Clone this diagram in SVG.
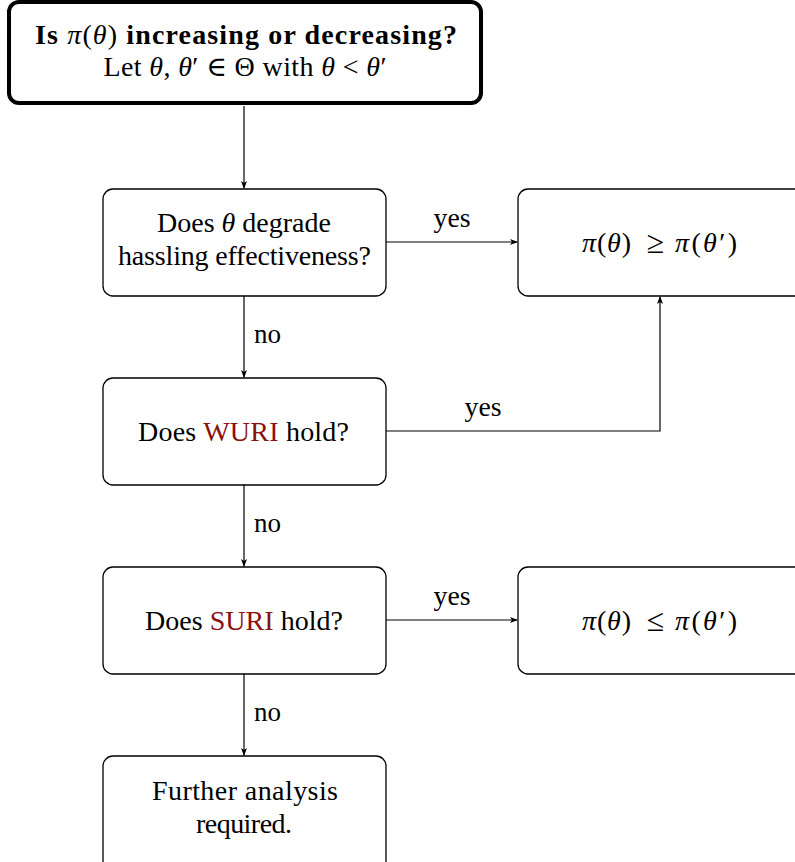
<svg xmlns="http://www.w3.org/2000/svg" width="795" height="862" viewBox="0 0 795 862">
<style>
.box{fill:#fff;stroke:#000;stroke-width:1.3}
.top{fill:#fff;stroke:#000;stroke-width:4}
text{font-family:"Liberation Serif","DejaVu Serif",serif;font-size:28px;fill:#000;text-anchor:middle}
.lbl{text-anchor:start}
.i{font-style:italic}
.red{fill:#8b1010}
.rel{font-size:32px}
.c{fill:none;stroke:#000;stroke-width:1.2}
</style>
<defs>
<marker id="ah" markerWidth="8" markerHeight="6" refX="7" refY="3" orient="auto" markerUnits="userSpaceOnUse">
<path d="M0,0 L8,3 L0,6 L2,3 Z" fill="#000"/>
</marker>
</defs>
<g id="connectors">
<line class="c" x1="244" y1="106" x2="244" y2="188" marker-end="url(#ah)"/>
<line class="c" x1="244" y1="296" x2="244" y2="377" marker-end="url(#ah)"/>
<line class="c" x1="244" y1="485" x2="244" y2="566" marker-end="url(#ah)"/>
<line class="c" x1="244" y1="674" x2="244" y2="755" marker-end="url(#ah)"/>
<line class="c" x1="386" y1="242" x2="517" y2="242" marker-end="url(#ah)"/>
<line class="c" x1="386" y1="620" x2="517" y2="620" marker-end="url(#ah)"/>
<polyline class="c" points="386,431 660,431 660,297" marker-end="url(#ah)"/>
<text class="lbl" x="254" y="343" textLength="27" lengthAdjust="spacingAndGlyphs">no</text>
<text class="lbl" x="254" y="532" textLength="27" lengthAdjust="spacingAndGlyphs">no</text>
<text class="lbl" x="254" y="721" textLength="27" lengthAdjust="spacingAndGlyphs">no</text>
<text x="452" y="227" textLength="37" lengthAdjust="spacingAndGlyphs">yes</text>
<text x="483" y="416" textLength="37" lengthAdjust="spacingAndGlyphs">yes</text>
<text x="452" y="605" textLength="37" lengthAdjust="spacingAndGlyphs">yes</text>
</g>
<g id="start">
<rect class="top" x="9" y="2" width="472" height="101" rx="10"/>
<text x="246" y="44" font-weight="bold" textLength="422">Is <tspan font-weight="normal" class="i">π</tspan><tspan font-weight="normal">(</tspan><tspan font-weight="normal" class="i">θ</tspan><tspan font-weight="normal">)</tspan> increasing or decreasing?</text>
<text x="245" y="76" textLength="283">Let <tspan class="i">θ</tspan>, <tspan class="i">θ</tspan>′ ∈ Θ with <tspan class="i">θ</tspan> &lt; <tspan class="i">θ</tspan>′</text>
</g>
<g id="degrade">
<rect class="box" x="103" y="189" width="283" height="107" rx="10"/>
<text x="244" y="232" textLength="174">Does <tspan class="i">θ</tspan> degrade</text>
<text x="244.5" y="265" textLength="253">hassling effectiveness?</text>
</g>
<g id="geq">
<rect class="box" x="518" y="189" width="290" height="107" rx="10"/>
<text x="606.5" y="252" textLength="49"><tspan class="i">π</tspan>(<tspan class="i">θ</tspan>)</text>
<text class="rel" x="655.5" y="253">≥</text>
<text x="706" y="252" textLength="62"><tspan class="i">π</tspan>(<tspan class="i">θ</tspan>′)</text>
</g>
<g id="wuri">
<rect class="box" x="103" y="378" width="283" height="107" rx="10"/>
<text x="243.5" y="441" textLength="211">Does <tspan class="red">WURI</tspan> hold?</text>
</g>
<g id="suri">
<rect class="box" x="103" y="567" width="283" height="107" rx="10"/>
<text x="244" y="630" textLength="198">Does <tspan class="red">SURI</tspan> hold?</text>
</g>
<g id="leq">
<rect class="box" x="518" y="567" width="290" height="107" rx="10"/>
<text x="606.5" y="630" textLength="49"><tspan class="i">π</tspan>(<tspan class="i">θ</tspan>)</text>
<text class="rel" x="655.5" y="631">≤</text>
<text x="706" y="630" textLength="62"><tspan class="i">π</tspan>(<tspan class="i">θ</tspan>′)</text>
</g>
<g id="further">
<rect class="box" x="103" y="756" width="283" height="115" rx="10"/>
<text x="245" y="800" textLength="186">Further analysis</text>
<text x="244" y="833" textLength="96">required.</text>
</g>
</svg>
